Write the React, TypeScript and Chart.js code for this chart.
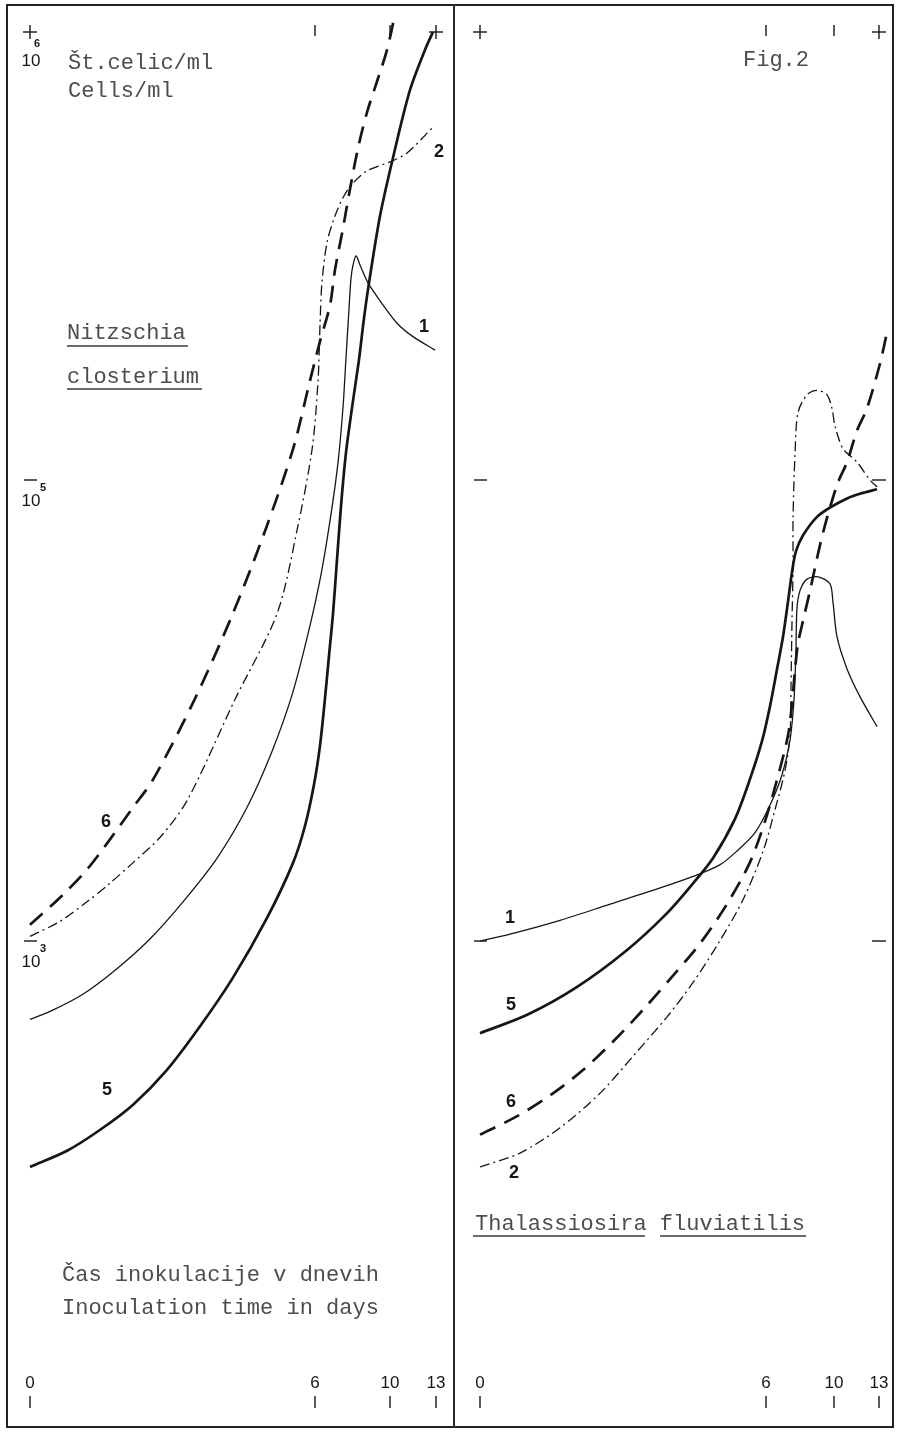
import React, { useEffect, useRef } from 'react';
import { Chart, registerables, LinearScale } from 'chart.js';

Chart.register(...registerables);

// ---------------- data ----------------
// x: inoculation time in days, y: log10(cells/ml)
const dayTicks = [0, 6, 10, 13];
const dayTickLabels = ['0', '6', '10', '13'];
const levelTicks = [3, 5, 6];
const levelBase = ['10', '10', '10'];
const levelExp = ['3', '5', '6'];

// Nitzschia closterium (left panel)
const nitz1Days = [0, 0.48, 1.12, 1.83, 2.53, 3.22, 3.94, 4.57, 5.09, 5.52, 5.85, 6.32, 6.85, 7.23, 7.49, 7.65, 7.81, 7.92, 8.03, 8.19, 8.4, 8.83, 9.47, 10.46, 11.5, 12.94];
const nitz1Log = [2.66, 2.7, 2.77, 2.88, 3.01, 3.17, 3.36, 3.58, 3.82, 4.07, 4.33, 4.59, 4.85, 5.04, 5.16, 5.27, 5.38, 5.45, 5.48, 5.5, 5.48, 5.44, 5.4, 5.35, 5.32, 5.29];
const nitz2Days = [0, 0.63, 1.2, 1.68, 2.17, 2.74, 3.31, 4.32, 5.2, 5.62, 5.94, 6.16, 6.27, 6.37, 6.64, 7.07, 7.49, 7.97, 8.77, 10, 11.11, 12.87];
const nitz2Log = [3.02, 3.085, 3.17, 3.25, 3.34, 3.45, 3.61, 4.05, 4.42, 4.78, 5.07, 5.22, 5.35, 5.44, 5.53, 5.59, 5.63, 5.66, 5.69, 5.71, 5.73, 5.79];
const nitz5Days = [0, 0.78, 1.47, 2.17, 2.88, 3.58, 4.27, 4.99, 5.54, 5.79, 5.98, 6.27, 6.53, 6.75, 6.96, 7.17, 7.39, 7.65, 7.97, 8.35, 8.61, 8.88, 9.47, 10.2, 11.3, 12.28, 12.8];
const nitz5Log = [2.02, 2.09, 2.18, 2.29, 2.44, 2.63, 2.84, 3.1, 3.34, 3.5, 3.68, 3.85, 4.05, 4.24, 4.42, 4.65, 4.89, 5.06, 5.16, 5.27, 5.36, 5.44, 5.59, 5.72, 5.87, 5.96, 6.0];
const nitz6Days = [0, 0.69, 1.2, 1.68, 2.17, 2.59, 3.47, 4.27, 4.95, 5.54, 5.89, 6.27, 6.8, 7.07, 7.44, 7.87, 8.29, 8.77, 9.31, 9.84, 10.33];
const nitz6Log = [3.07, 3.2, 3.31, 3.44, 3.58, 3.7, 4.05, 4.42, 4.78, 5.07, 5.22, 5.31, 5.39, 5.47, 5.55, 5.65, 5.74, 5.82, 5.89, 5.96, 6.04];

// Thalassiosira fluviatilis (right panel)
const thal1Days = [0, 0.63, 1.68, 2.73, 3.78, 4.47, 5.03, 5.39, 5.77, 6.24, 6.94, 7.41, 7.65, 7.76, 7.82, 8.0, 8.41, 9.06, 9.76, 9.94, 10.2, 10.87, 11.73, 12.87];
const thal1Log = [3.0, 3.03, 3.09, 3.16, 3.23, 3.28, 3.33, 3.39, 3.47, 3.59, 3.72, 3.87, 4.05, 4.26, 4.44, 4.52, 4.57, 4.58, 4.55, 4.47, 4.32, 4.18, 4.06, 3.93];
const thal2Days = [0, 0.84, 1.68, 2.52, 3.21, 3.92, 4.47, 5.03, 5.52, 5.94, 6.53, 7.12, 7.41, 7.47, 7.53, 7.59, 7.59, 7.71, 7.88, 8.41, 9.0, 9.59, 9.88, 10.07, 10.6, 11.53, 12.4, 12.87];
const thal2Log = [2.02, 2.08, 2.19, 2.34, 2.5, 2.67, 2.82, 3.0, 3.18, 3.39, 3.57, 3.74, 3.89, 4.1, 4.39, 4.61, 4.83, 5.06, 5.15, 5.19, 5.2, 5.19, 5.16, 5.12, 5.07, 5.04, 5.0, 4.97];
const thal5Days = [0, 0.99, 2.03, 3.08, 3.92, 4.47, 4.89, 5.35, 5.66, 5.92, 6.24, 6.65, 7.0, 7.29, 7.53, 7.76, 8.18, 9.0, 9.76, 10.87, 11.73, 12.87];
const thal5Log = [2.6, 2.68, 2.8, 2.96, 3.12, 3.25, 3.36, 3.53, 3.7, 3.87, 4.02, 4.18, 4.32, 4.47, 4.6, 4.69, 4.76, 4.84, 4.88, 4.92, 4.94, 4.96];
const thal6Days = [0, 0.78, 1.47, 2.16, 2.87, 3.5, 4.05, 4.62, 5.18, 5.66, 5.98, 6.65, 7.29, 7.53, 7.71, 7.88, 8.18, 8.59, 9.06, 9.35, 9.76, 10.27, 10.87, 11.53, 12.2, 13.07, 13.47];
const thal6Log = [2.16, 2.24, 2.33, 2.44, 2.58, 2.72, 2.85, 2.99, 3.16, 3.34, 3.52, 3.7, 3.89, 4.03, 4.18, 4.29, 4.39, 4.52, 4.68, 4.77, 4.88, 4.99, 5.04, 5.11, 5.16, 5.26, 5.32];

// ---------------- layout / style ----------------
const PAGE_W = 900;
const PAGE_H = 1433;
const INK = '#161616';
const TYPE_INK = '#4d4d4d';
const NUM_FONT = "17px 'Liberation Sans Narrow', 'Liberation Sans', Arial, sans-serif";
const SUP_FONT = "bold 11px 'Liberation Sans', Arial, sans-serif";
const CURVE_FONT = "bold 18px 'Liberation Sans', Arial, sans-serif";
const TYPE_FONT = "22px 'Liberation Mono', 'DejaVu Sans Mono', monospace";

// hand-drawn, non-uniform axes: page pixel anchors of the tick positions
const leftDayPx = [30, 315, 390, 436];
const rightDayPx = [480, 766, 834, 879];
const levelPy = [941, 480, 32];

function interp(v: number, xs: number[], ys: number[]) {
  const n = xs.length;
  let i = 0;
  if (v >= xs[n - 1]) i = n - 2;
  else if (v > xs[0]) {
    while (i < n - 2 && v > xs[i + 1]) i++;
  }
  const t = (v - xs[i]) / (xs[i + 1] - xs[i]);
  return ys[i] + t * (ys[i + 1] - ys[i]);
}

function makeScale(id: string, stops: number[], fracs: number[]) {
  return class extends LinearScale {
    static id = id;
    getPixelForValue(value: number) {
      if (value === null || value === undefined || isNaN(value)) return NaN;
      return this.getPixelForDecimal(interp(value, stops, fracs));
    }
    getValueForPixel(pixel: number) {
      return interp(this.getDecimalForPixel(pixel), fracs, stops);
    }
  };
}

const LEFT_X0 = 0, LEFT_W = 455;
const RIGHT_X0 = 455, RIGHT_W = 445;
const yFracs = levelPy.map((p) => (PAGE_H - p) / PAGE_H);

Chart.register(
  makeScale('pwLeftX', dayTicks, leftDayPx.map((p) => (p - LEFT_X0) / LEFT_W)) as any,
  makeScale('pwRightX', dayTicks, rightDayPx.map((p) => (p - RIGHT_X0) / RIGHT_W)) as any,
  makeScale('pwY', levelTicks, yFracs) as any
);

type Txt = { text: string; x: number; y: number; font: string; color: string };
type Panel = {
  x0: number;
  w: number;
  xType: string;
  leftLabels: boolean;
  rightDashes: boolean;
  texts: Txt[];
  underlines: [number, number, number][];
  series: { days: number[]; log: number[]; style: string }[];
};

const styles: Record<string, any> = {
  thinSolid: { borderWidth: 1.3, borderDash: [] },
  thickSolid: { borderWidth: 2.7, borderDash: [] },
  thickDash: { borderWidth: 2.7, borderDash: [17, 10] },
  dashDot: { borderWidth: 1.3, borderDash: [10, 4, 2, 4] },
};

const leftPanel: Panel = {
  x0: LEFT_X0,
  w: LEFT_W,
  xType: 'pwLeftX',
  leftLabels: true,
  rightDashes: false,
  texts: [
    { text: 'Št.celic/ml', x: 68, y: 63, font: TYPE_FONT, color: TYPE_INK },
    { text: 'Cells/ml', x: 68, y: 91, font: TYPE_FONT, color: TYPE_INK },
    { text: 'Nitzschia', x: 67, y: 333, font: TYPE_FONT, color: TYPE_INK },
    { text: 'closterium', x: 67, y: 377, font: TYPE_FONT, color: TYPE_INK },
    { text: 'Čas inokulacije v dnevih', x: 62, y: 1275, font: TYPE_FONT, color: TYPE_INK },
    { text: 'Inoculation time in days', x: 62, y: 1308, font: TYPE_FONT, color: TYPE_INK },
    { text: '6', x: 101, y: 822, font: CURVE_FONT, color: INK },
    { text: '5', x: 102, y: 1090, font: CURVE_FONT, color: INK },
    { text: '1', x: 419, y: 327, font: CURVE_FONT, color: INK },
    { text: '2', x: 434, y: 152, font: CURVE_FONT, color: INK },
  ],
  underlines: [
    [67, 188, 346],
    [67, 202, 389],
  ],
  series: [
    { days: nitz1Days, log: nitz1Log, style: 'thinSolid' },
    { days: nitz2Days, log: nitz2Log, style: 'dashDot' },
    { days: nitz5Days, log: nitz5Log, style: 'thickSolid' },
    { days: nitz6Days, log: nitz6Log, style: 'thickDash' },
  ],
};

const rightPanel: Panel = {
  x0: RIGHT_X0,
  w: RIGHT_W,
  xType: 'pwRightX',
  leftLabels: false,
  rightDashes: true,
  texts: [
    { text: 'Fig.2', x: 743 - RIGHT_X0, y: 60, font: TYPE_FONT, color: TYPE_INK },
    { text: 'Thalassiosira fluviatilis', x: 475 - RIGHT_X0, y: 1224, font: TYPE_FONT, color: TYPE_INK },
    { text: '1', x: 505 - RIGHT_X0, y: 918, font: CURVE_FONT, color: INK },
    { text: '5', x: 506 - RIGHT_X0, y: 1005, font: CURVE_FONT, color: INK },
    { text: '6', x: 506 - RIGHT_X0, y: 1102, font: CURVE_FONT, color: INK },
    { text: '2', x: 509 - RIGHT_X0, y: 1173, font: CURVE_FONT, color: INK },
  ],
  underlines: [
    [473 - RIGHT_X0, 645 - RIGHT_X0, 1236],
    [660 - RIGHT_X0, 806 - RIGHT_X0, 1236],
  ],
  series: [
    { days: thal1Days, log: thal1Log, style: 'thinSolid' },
    { days: thal2Days, log: thal2Log, style: 'dashDot' },
    { days: thal5Days, log: thal5Log, style: 'thickSolid' },
    { days: thal6Days, log: thal6Log, style: 'thickDash' },
  ],
};

function decorPlugin(panel: Panel) {
  return {
    id: 'decor',
    afterDraw(chart: any) {
      const ctx: CanvasRenderingContext2D = chart.ctx;
      const xs = chart.scales.x;
      const ys = chart.scales.y;
      ctx.save();
      ctx.strokeStyle = INK;
      ctx.fillStyle = INK;
      ctx.lineWidth = 1.4;
      ctx.setLineDash([]);
      const line = (x1: number, y1: number, x2: number, y2: number) => {
        ctx.beginPath();
        ctx.moveTo(x1, y1);
        ctx.lineTo(x2, y2);
        ctx.stroke();
      };
      const plus = (x: number, y: number) => {
        line(x - 7, y, x + 7, y);
        line(x, y - 7, x, y + 7);
      };
      const yTop = ys.getPixelForValue(levelTicks[levelTicks.length - 1]);
      const xFirst = xs.getPixelForValue(dayTicks[0]);
      const xLast = xs.getPixelForValue(dayTicks[dayTicks.length - 1]);

      // top ticks
      dayTicks.forEach((d, i) => {
        const x = xs.getPixelForValue(d);
        if (i === 0 || i === dayTicks.length - 1) plus(x, yTop);
        else line(x, yTop - 7, x, yTop + 4);
      });

      // level dashes and labels
      ctx.textBaseline = 'middle';
      levelTicks.forEach((lv, i) => {
        const y = ys.getPixelForValue(lv);
        const isTop = i === levelTicks.length - 1;
        if (!isTop) {
          line(xFirst - 6, y, xFirst + 7, y);
          if (panel.rightDashes) line(xLast - 7, y, xLast + 7, y);
        }
        if (panel.leftLabels) {
          ctx.font = NUM_FONT;
          ctx.textAlign = 'center';
          const dy = isTop ? 29 : 21;
          ctx.fillText(levelBase[i], xFirst + 1, y + dy);
          ctx.font = SUP_FONT;
          ctx.textAlign = 'left';
          if (isTop) ctx.fillText(levelExp[i], xFirst + 4, y + 12);
          else ctx.fillText(levelExp[i], xFirst + 10, y + 8);
        }
      });

      // bottom day labels
      const h = chart.height;
      dayTicks.forEach((d, i) => {
        const x = xs.getPixelForValue(d);
        ctx.font = NUM_FONT;
        ctx.textAlign = 'center';
        ctx.fillText(dayTickLabels[i], x, h - 50);
        line(x, h - 37, x, h - 25);
      });

      // texts
      ctx.textAlign = 'left';
      panel.texts.forEach((t) => {
        ctx.font = t.font;
        ctx.fillStyle = t.color;
        ctx.fillText(t.text, t.x, t.y);
      });
      ctx.strokeStyle = '#3a3a3a';
      ctx.lineWidth = 1.6;
      panel.underlines.forEach(([x1, x2, y]) => line(x1, y, x2, y));
      ctx.restore();
    },
  };
}

function PanelChart({ panel }: { panel: Panel }) {
  const ref = useRef<HTMLCanvasElement | null>(null);
  useEffect(() => {
    if (!ref.current) return;
    const datasets = panel.series.map((s) => ({
      data: s.days.map((d, i) => ({ x: d, y: s.log[i] })),
      showLine: true,
      borderColor: INK,
      backgroundColor: INK,
      pointRadius: 0,
      pointHoverRadius: 0,
      tension: 0.3,
      fill: false,
      borderCapStyle: 'butt',
      borderJoinStyle: 'round',
      ...styles[s.style],
    }));
    const chart = new Chart(ref.current, {
      type: 'scatter',
      data: { datasets } as any,
      options: {
        animation: false,
        responsive: false,
        devicePixelRatio: 1,
        events: [],
        layout: { padding: 0 },
        plugins: { legend: { display: false }, tooltip: { enabled: false }, title: { display: false } },
        scales: {
          x: { type: panel.xType as any, display: false, min: -1, max: 14 },
          y: { type: 'pwY' as any, display: false, min: 1, max: 7 },
        },
      },
      plugins: [decorPlugin(panel)],
    });
    return () => chart.destroy();
  }, [panel]);
  return (
    <canvas
      ref={ref}
      width={panel.w}
      height={PAGE_H}
      style={{ position: 'absolute', left: panel.x0, top: 0, width: panel.w, height: PAGE_H }}
    />
  );
}

export default function App() {
  return (
    <div style={{ position: 'absolute', left: 0, top: 0, width: PAGE_W, height: PAGE_H, background: '#fff', overflow: 'hidden' }}>
      <PanelChart panel={leftPanel} />
      <PanelChart panel={rightPanel} />
      <div style={{ position: 'absolute', left: 6, top: 4, width: 888, height: 1424, border: '2px solid #222', boxSizing: 'border-box', pointerEvents: 'none' }} />
      <div style={{ position: 'absolute', left: 453, top: 4, width: 2, height: 1424, background: '#2a2a2a', pointerEvents: 'none' }} />
    </div>
  );
}
